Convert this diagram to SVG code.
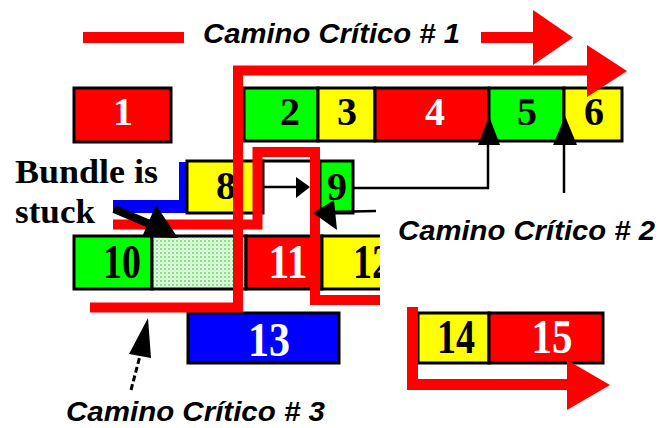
<svg xmlns="http://www.w3.org/2000/svg" width="660" height="428" viewBox="0 0 660 428">
<style>
.box{stroke:#000;stroke-width:3}
.r{fill:#ff0000}.g{fill:#00ff00}.y{fill:#ffff00}.b{fill:#0000ff}
.d{font-family:"Liberation Serif",serif;font-weight:bold;text-anchor:middle}
.t1{font-size:40px}.t2{font-size:48px}
.w{fill:#fff}.k{fill:#000}
.lbl{font-family:"Liberation Sans",Arial,sans-serif;font-weight:bold;font-style:italic;font-size:28px;fill:#000}
.bs{font-family:"Liberation Serif",serif;font-weight:bold;font-size:34px;fill:#000}
.red{fill:none;stroke:#ff0000;stroke-width:10;stroke-linejoin:miter}
.blk{fill:none;stroke:#000;stroke-width:2.5}
</style>
<defs>
<pattern id="dots" width="4" height="4" patternUnits="userSpaceOnUse">
<rect width="4" height="4" fill="#e6ffe6"/>
<circle cx="1" cy="1" r="1" fill="#5ddc5d"/>
<circle cx="3" cy="3" r="0.8" fill="#9ff09f"/>
</pattern>
<clipPath id="clipR"><rect x="0" y="0" width="380" height="428"/></clipPath>
</defs>
<rect width="660" height="428" fill="#fff"/>

<g id="node1"><rect class="box r" x="74" y="88" width="97" height="54"/><text class="d t1 w" x="123" y="125">1</text></g>
<g id="node2"><rect class="box g" x="244" y="88" width="74" height="53"/><text class="d t1 k" x="290" y="125">2</text></g>
<g id="node3"><rect class="box y" x="318" y="88" width="57" height="53"/><text class="d t1 k" x="347" y="125">3</text></g>
<g id="node4"><rect class="box r" x="375" y="88" width="114" height="53"/><text class="d t1 w" x="435" y="125">4</text></g>
<g id="node5"><rect class="box g" x="489" y="88" width="75" height="53"/><text class="d t1 k" x="527" y="125">5</text></g>
<g id="node6"><rect class="box y" x="564" y="88" width="58" height="53"/><text class="d t1 k" x="594" y="125">6</text></g>

<g id="blueBar"><rect class="b" x="179" y="162" width="9" height="51"/><rect class="b" x="113" y="200" width="75" height="13"/></g>
<g id="node8"><rect class="box y" x="187" y="161" width="76" height="52"/><text class="d t1 k" x="226" y="199">8</text></g>
<g id="gap89"><line x1="263" y1="161" x2="320" y2="161" stroke="#000" stroke-width="3"/></g>
<g id="node9"><rect class="box g" x="320" y="161" width="33" height="52"/><text class="d t1 k" x="337" y="200">9</text></g>

<g id="node10"><rect class="box g" x="74" y="236" width="78" height="53"/><text class="d t2 k" x="122" y="278" textLength="38" lengthAdjust="spacingAndGlyphs">10</text></g>
<g id="bundle"><rect class="box" fill="url(#dots)" x="152" y="236" width="94" height="53"/></g>
<g id="node11"><rect class="box r" x="246" y="236" width="76" height="53"/><text class="d t2 w" x="288" y="278" textLength="39" lengthAdjust="spacingAndGlyphs">11</text></g>
<g id="node12" clip-path="url(#clipR)"><rect class="box y" x="322" y="236" width="80" height="53"/><text class="d t2 k" x="372" y="278" textLength="38" lengthAdjust="spacingAndGlyphs">12</text></g>

<g id="node13"><rect class="box b" x="188" y="313" width="151" height="50"/><text class="d t2 w" x="269" y="356" textLength="42" lengthAdjust="spacingAndGlyphs">13</text></g>
<g id="node14"><rect class="box y" x="418" y="313" width="71" height="50"/><text class="d t2 k" x="456" y="353" textLength="38" lengthAdjust="spacingAndGlyphs">14</text></g>
<g id="node15"><rect class="box r" x="489" y="313" width="114" height="50"/><text class="d t2 w" x="552" y="353" textLength="41" lengthAdjust="spacingAndGlyphs">15</text></g>

<g id="connectors">
<!-- legend -->
<rect x="83" y="32" width="101" height="11" fill="#ff0000"/>
<rect x="481" y="32" width="54" height="11" fill="#ff0000"/>
<polygon points="533,10 573,37.5 533,65" fill="#ff0000"/>
<!-- critical path 1 / 3 -->
<polyline class="red" points="90,307.5 238,307.5 238,70.5 590,70.5"/>
<polygon points="587,45 627,71 587,97" fill="#ff0000"/>
<!-- critical path 2 -->
<polyline class="red" points="113,224.5 257.5,224.5 257.5,152 315,152 315,300 380,300" clip-path="url(#clipR)"/>
<!-- 14-15 path -->
<polyline fill="none" stroke="#ff0000" stroke-width="11" points="412.5,307 412.5,384.5 568,384.5"/>
<polygon points="567,360 610,385 567,410" fill="#ff0000"/>
<!-- black arrows -->
<line class="blk" x1="263" y1="187" x2="298" y2="187"/>
<polygon points="296,177 310,187 296,198" fill="#000"/>
<polyline class="blk" points="353,188 488,188 488,143"/>
<polygon points="489,116 478,145 500,145" fill="#000"/>
<polyline class="blk" points="564,193 564,143"/>
<polygon points="565,116 553,145 577,145" fill="#000"/>
<line class="blk" x1="376" y1="211" x2="330" y2="212"/>
<polygon points="313,213 334,200 337,230" fill="#000"/>
<!-- bundle is stuck arrow -->
<line x1="114" y1="209" x2="152" y2="225" stroke="#000" stroke-width="8"/>
<polygon points="178,238 142,237 156,205" fill="#000"/>
<!-- path 3 dashed arrow -->
<line x1="131" y1="390" x2="141" y2="352" stroke="#000" stroke-width="3" stroke-dasharray="6 3"/>
<polygon points="148,318 129,354 151,358" fill="#000"/>
</g>

<g id="labels">
<text class="lbl" x="203" y="43" textLength="257" lengthAdjust="spacingAndGlyphs">Camino Crítico # 1</text>
<text class="lbl" x="398" y="240" textLength="257" lengthAdjust="spacingAndGlyphs">Camino Crítico # 2</text>
<text class="lbl" x="66" y="421" textLength="259" lengthAdjust="spacingAndGlyphs">Camino Crítico # 3</text>
<text class="bs" x="15" y="183" textLength="143" lengthAdjust="spacingAndGlyphs">Bundle is</text>
<text class="bs" x="15" y="223" textLength="80" lengthAdjust="spacingAndGlyphs">stuck</text>
</g>
</svg>
